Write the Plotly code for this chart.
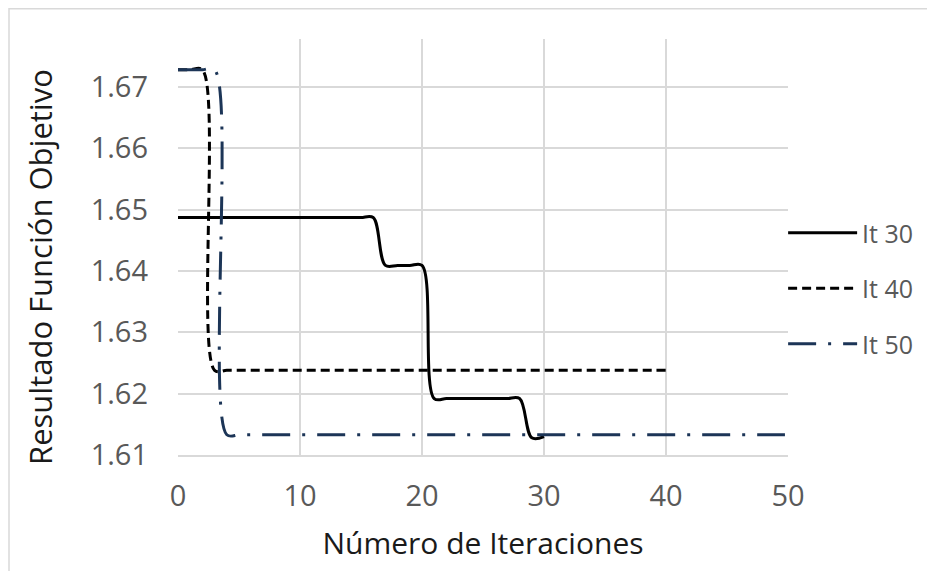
import plotly.graph_objects as go

# ---- data ----
x30 = list(range(0, 31))
y30 = [1.6487] * 17 + [1.6409] * 4 + [1.6192] * 8 + [1.6128, 1.6130]

x40 = list(range(0, 41))
y40 = [1.6728] * 3 + [1.6238] * 38

x50 = list(range(0, 51))
y50 = [1.6728] * 4 + [1.6133] * 47

series_names = ["It 30", "It 40", "It 50"]
x_title = "Número de Iteraciones"
y_title = "Resultado Función Objetivo"

# page body has an 8px default margin, so the figure is offset by 8px
OFF = 8
W, H = 935, 571
ML, MT = 178 - OFF, 39 - OFF
PW, PH = 610, 416
MR = W - ML - PW
MB = H - MT - PH
FONT = "Open Sans"

fig = go.Figure()
fig.add_trace(go.Scatter(x=x30, y=y30, name=series_names[0], mode="lines",
                         line=dict(color="#000000", width=3, shape="spline", smoothing=1),
                         legendgroup="a"))
fig.add_trace(go.Scatter(x=x40, y=y40, name=series_names[1], mode="lines",
                         line=dict(color="#000000", width=3, dash="9px,5px", shape="spline", smoothing=1),
                         legendgroup="b"))
fig.add_trace(go.Scatter(x=x50, y=y50, name=series_names[2], mode="lines",
                         line=dict(color="#1c3557", width=3, dash="28px,12px,3px,12px", shape="spline", smoothing=1),
                         legendgroup="c"))

# light outer chart border (top and left visible)
fig.add_shape(type="rect", xref="paper", yref="paper",
              x0=(1 - ML) / PW, x1=(W + 20 - ML) / PW,
              y0=-(H + 20 - MT - PH) / PH, y1=(MT + PH - 0.8) / PH,
              line=dict(color="#d9d9d9", width=1.5), layer="below")

# y-axis title as a rotated annotation (sits slightly below plot centre, as in the reference)
fig.add_annotation(text=y_title, xref="paper", yref="paper",
                   x=(40 - OFF - ML) / PW, y=(PH + MT - (267 - OFF)) / PH,
                   xanchor="center", yanchor="middle", textangle=-90, showarrow=False,
                   font=dict(size=31, color="#1a1a1a", family=FONT))

fig.update_layout(
    width=W, height=H,
    margin=dict(l=ML, r=MR, t=MT, b=MB, autoexpand=False),
    paper_bgcolor="white", plot_bgcolor="white",
    font=dict(family=FONT, color="#595959"),
    showlegend=True,
    legend=dict(x=0.992, xanchor="left", y=0.40, yanchor="middle",
                font=dict(size=25, color="#595959", family=FONT),
                tracegroupgap=20, itemwidth=69, bgcolor="rgba(0,0,0,0)"),
    xaxis=dict(range=[0, 50], dtick=10, tick0=0, showgrid=True, gridcolor="#d9d9d9", gridwidth=1.5,
               zeroline=False, showline=True, linecolor="#d9d9d9", linewidth=1.5,
               ticks="", tickfont=dict(size=29, color="#595959"), ticklabelstandoff=14,
               title=dict(text=x_title, font=dict(size=30, color="#1a1a1a"), standoff=20)),
    yaxis=dict(range=[1.61, 1.6778], dtick=0.01, tick0=1.61, tickformat=".2f", showgrid=True,
               gridcolor="#d9d9d9", gridwidth=1.5, zeroline=False, showline=False,
               ticks="", tickfont=dict(size=29, color="#595959"), ticklabelstandoff=29),
)

fig.write_html("out.html")
